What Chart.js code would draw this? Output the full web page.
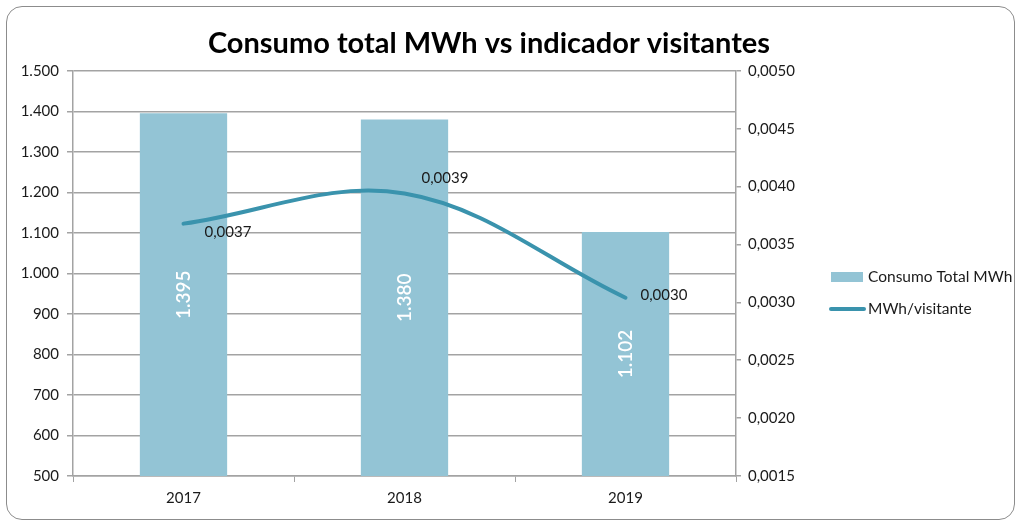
<!DOCTYPE html>
<html lang="es">
<head>
    <meta charset="UTF-8">
    <title>Consumo total MWh vs indicador visitantes</title>
    <script src="https://cdn.jsdelivr.net/npm/chart.js"></script>
    <style>
        body {
            margin: 0;
            padding: 0;
            background: #fff;
            font-family: Lato, sans-serif;
        }
        .wrap {
            position: relative;
            width: 1020px;
            height: 525px;
        }
        .frame {
            position: absolute;
            left: 6px;
            top: 6px;
            width: 1007px;
            height: 512px;
            border: 1.5px solid #8c8c8c;
            border-radius: 16px;
            pointer-events: none;
        }
    </style>
</head>
<body>
    <div class="wrap">
        <canvas id="chart" width="1020" height="525"></canvas>
        <div class="frame"></div>
    </div>

    <script>
        // data
        const years = ['2017', '2018', '2019'];
        const consumoMWh = [1395, 1380, 1102];
        const mwhPorVisitante = [0.00368, 0.00394, 0.00304];
        const consumoLabel = 'Consumo Total MWh';
        const ratioLabel = 'MWh/visitante';

        const barColor = '#93c4d5';
        const lineColor = '#3a93ad';
        const gridColor = '#a3a3a3';

        const fmtMiles = v => Math.round(v).toString().replace(/\B(?=(\d{3})+(?!\d))/g, '.');
        const fmtRatio = v => v.toFixed(4).replace('.', ',');

        // data labels: white rotated inside bars, black beside line points
        const labelOffsets = [[21, 9], [17, -15], [15, -3]];
        const dataLabels = {
            id: 'dataLabels',
            afterDatasetsDraw(chart) {
                const ctx = chart.ctx;
                const bottom = chart.chartArea.bottom;
                ctx.save();
                chart.getDatasetMeta(0).data.forEach((bar, i) => {
                    const mid = (bar.y + Math.min(bar.base, bottom)) / 2;
                    ctx.save();
                    ctx.translate(bar.x, mid);
                    ctx.rotate(-Math.PI / 2);
                    ctx.fillStyle = '#ffffff';
                    ctx.font = '600 19px Lato';
                    ctx.textAlign = 'center';
                    ctx.textBaseline = 'middle';
                    ctx.fillText(fmtMiles(consumoMWh[i]), 0, 0);
                    ctx.restore();
                });
                chart.getDatasetMeta(1).data.forEach((pt, i) => {
                    ctx.fillStyle = '#1a1a1a';
                    ctx.font = '15px Lato';
                    ctx.textAlign = 'left';
                    ctx.textBaseline = 'middle';
                    ctx.fillText(fmtRatio(mwhPorVisitante[i]), pt.x + labelOffsets[i][0], pt.y + labelOffsets[i][1]);
                });
                ctx.restore();
            }
        };

        // legend on the right, drawn by hand to sit where the original does
        const sideLegend = {
            id: 'sideLegend',
            afterDraw(chart) {
                const ctx = chart.ctx;
                const x = 831, y0 = 277, gap = 32;
                ctx.save();
                ctx.font = '15.5px Lato';
                ctx.textBaseline = 'middle';
                ctx.fillStyle = barColor;
                ctx.fillRect(x, y0 - 5, 32, 10);
                ctx.strokeStyle = lineColor;
                ctx.lineWidth = 4;
                ctx.lineCap = 'round';
                ctx.beginPath();
                ctx.moveTo(x, y0 + gap);
                ctx.lineTo(x + 33, y0 + gap);
                ctx.stroke();
                ctx.fillStyle = '#1a1a1a';
                ctx.fillText(chart.data.datasets[0].label, x + 37, y0);
                ctx.fillText(chart.data.datasets[1].label, x + 37, y0 + gap);
                ctx.restore();
            }
        };

        const ctx = document.getElementById('chart').getContext('2d');
        new Chart(ctx, {
            type: 'bar',
            data: {
                labels: years,
                datasets: [{
                    label: consumoLabel,
                    data: consumoMWh,
                    backgroundColor: barColor,
                    yAxisID: 'y',
                    categoryPercentage: 1,
                    barPercentage: 0.395,
                    order: 2
                }, {
                    type: 'line',
                    label: ratioLabel,
                    data: mwhPorVisitante,
                    borderColor: lineColor,
                    borderWidth: 4,
                    borderCapStyle: 'round',
                    pointRadius: 0,
                    tension: 0.36,
                    yAxisID: 'y1',
                    order: 1
                }]
            },
            options: {
                responsive: false,
                animation: false,
                layout: { padding: { left: 10, right: 52, top: 0, bottom: 9 } },
                plugins: {
                    legend: { display: false },
                    tooltip: { enabled: false },
                    title: {
                        display: true,
                        text: 'Consumo total MWh vs indicador visitantes',
                        color: '#000',
                        font: { family: 'Lato', size: 29, weight: 'bold' },
                        padding: { top: 26, bottom: 10 }
                    }
                },
                scales: {
                    x: {
                        afterFit(s) { s.height = 40; },
                        grid: { offset: true, drawOnChartArea: false, color: gridColor, tickLength: 6 },
                        border: { color: gridColor, width: 1.5 },
                        ticks: { color: '#1a1a1a', font: { family: 'Lato', size: 15 }, padding: 7 }
                    },
                    y: {
                        min: 500,
                        max: 1500,
                        afterFit(s) { s.width = 63; },
                        ticks: { stepSize: 100, color: '#1a1a1a', font: { family: 'Lato', size: 15 }, padding: 8, callback: v => fmtMiles(v) },
                        grid: { color: gridColor, lineWidth: 1.5, tickLength: 6 },
                        border: { color: gridColor, width: 1.5 }
                    },
                    y1: {
                        position: 'right',
                        min: 0.0015,
                        max: 0.0050,
                        afterFit(s) { s.width = 232; },
                        ticks: { stepSize: 0.0005, color: '#1a1a1a', font: { family: 'Lato', size: 15 }, padding: 7, callback: v => fmtRatio(v) },
                        grid: { drawOnChartArea: false, color: gridColor, lineWidth: 1.5, tickLength: 5 },
                        border: { color: gridColor, width: 1.5 }
                    }
                }
            },
            plugins: [dataLabels, sideLegend]
        });
    </script>
</body>
</html>
